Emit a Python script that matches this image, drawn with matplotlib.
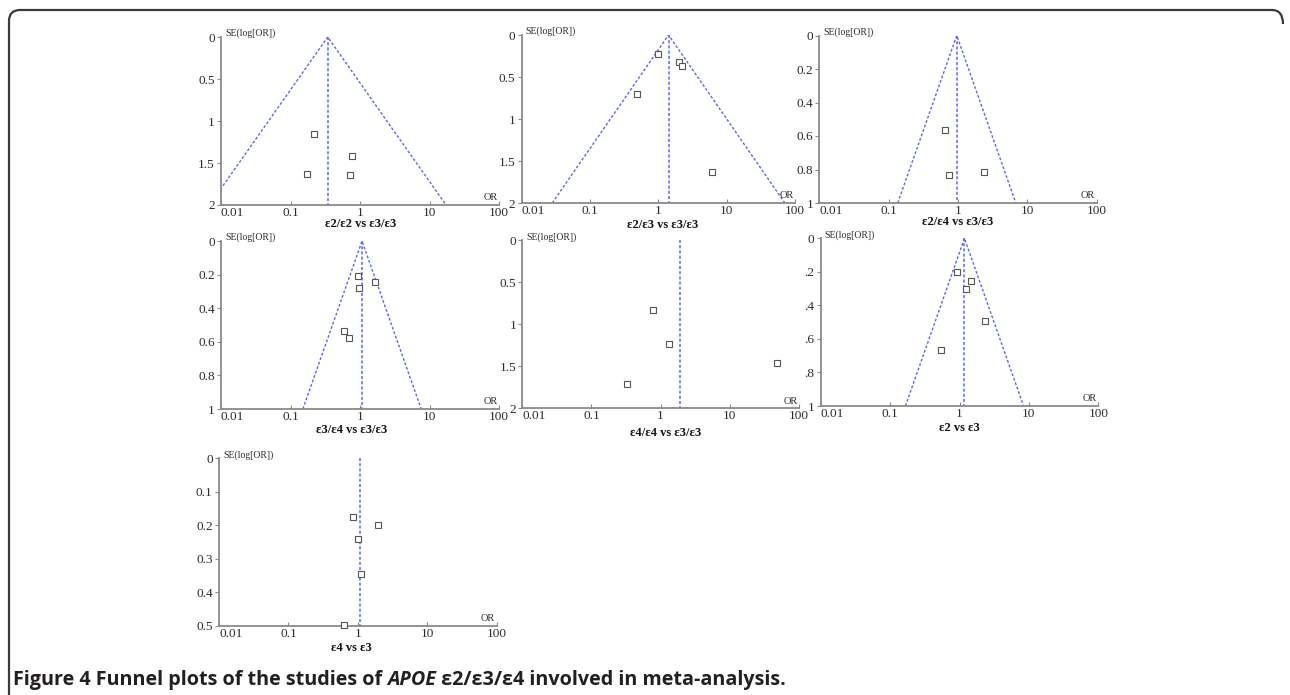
import numpy as np
import matplotlib
matplotlib.use("Agg")
import matplotlib.pyplot as plt
from matplotlib.path import Path
from matplotlib.patches import PathPatch

W, H = 1290, 695

# ---- data ----
titles = ["ε2/ε2 vs ε3/ε3", "ε2/ε3 vs ε3/ε3", "ε2/ε4 vs ε3/ε3",
          "ε3/ε4 vs ε3/ε3", "ε4/ε4 vs ε3/ε3", "ε2 vs ε3", "ε4 vs ε3"]
pooled_or = [0.343, 1.41, 0.96, 1.07, 1.9, 1.18, 1.09]
se_max = [2, 2, 1, 1, 2, 1, 0.5]
show_funnel = [True, True, True, True, False, True, False]

or_e2e2 = [0.216, 0.77, 0.175, 0.72]
se_e2e2 = [1.16, 1.42, 1.63, 1.64]
or_e2e3 = [1.0, 2.03, 2.21, 0.49, 6.0]
se_e2e3 = [0.226, 0.32, 0.365, 0.70, 1.63]
or_e2e4 = [0.65, 0.73, 2.36]
se_e2e4 = [0.564, 0.83, 0.815]
or_e3e4 = [0.925, 1.64, 0.98, 0.58, 0.70]
se_e3e4 = [0.206, 0.246, 0.278, 0.537, 0.58]
or_e4e4 = [0.77, 1.33, 47.4, 0.33]
se_e4e4 = [0.826, 1.24, 1.46, 1.71]
or_e2 = [0.935, 1.46, 1.25, 2.33, 0.54]
se_e2 = [0.203, 0.255, 0.302, 0.495, 0.664]
or_e4 = [0.86, 1.94, 1.02, 1.10, 0.63]
se_e4 = [0.176, 0.199, 0.242, 0.346, 0.498]

study_or = [or_e2e2, or_e2e3, or_e2e4, or_e3e4, or_e4e4, or_e2, or_e4]
study_se = [se_e2e2, se_e2e3, se_e2e4, se_e3e4, se_e4e4, se_e2, se_e4]

xticks = [0.01, 0.1, 1, 10, 100]
xtick_labels = ["0.01", "0.1", "1", "10", "100"]
yticks_half = [0, 0.5, 1, 1.5, 2]
ylabels_half = ["0", "0.5", "1", "1.5", "2"]
yticks_fifth = [0, 0.2, 0.4, 0.6, 0.8, 1]
ylabels_fifth = ["0", "0.2", "0.4", "0.6", "0.8", "1"]
ylabels_cut = ["0", ".2", ".4", ".6", ".8", "1"]
yticks_tenth = [0, 0.1, 0.2, 0.3, 0.4, 0.5]
ylabels_tenth = ["0", "0.1", "0.2", "0.3", "0.4", "0.5"]
panel_yticks = [yticks_half, yticks_half, yticks_fifth, yticks_fifth,
                yticks_half, yticks_fifth, yticks_tenth]
panel_ylabels = [ylabels_half, ylabels_half, ylabels_fifth, ylabels_fifth,
                 ylabels_half, ylabels_cut, ylabels_tenth]

# ---- layout (pixels): left, right, top, bottom of each plot area ----
boxes = [(221, 499, 37, 205), (521.7, 795, 35, 203), (819.3, 1096.7, 35.5, 203),
         (221, 499, 241, 409), (522.3, 799, 240.3, 408.3), (820.7, 1098.3, 238.3, 406),
         (219, 496.7, 458.3, 626)]
label_pos = [(361, 224), (662.5, 225), (958, 222), (352, 430), (666, 433),
             (959, 428), (351, 648)]

serif = "Liberation Serif"
axis_col = "#8a8a8a"
text_col = "#2b2b2b"
blue = "#5a66f2"

fig = plt.figure(figsize=(W / 100, H / 100), dpi=100)

for i in range(7):
    x0, x1, yt, yb = boxes[i]
    ax = fig.add_axes([x0 / W, 1 - yb / H, (x1 - x0) / W, (yb - yt) / H])
    ax.set_facecolor("none")
    ax.set_xscale("log")
    ax.set_xlim(0.01, 100)
    ax.set_ylim(se_max[i], 0)

    p = pooled_or[i]
    s = se_max[i]
    ax.plot([p, p], [0, s], color=blue, lw=1.1, ls=(0, (2, 1.4)))
    if show_funnel[i]:
        ax.plot([p * np.exp(-1.96 * s), p, p * np.exp(1.96 * s)], [s, 0, s],
                color=blue, lw=1.0, ls=(0, (2, 1.4)))

    ax.plot(study_or[i], study_se[i], ls="none", marker="s", ms=4.3,
            mfc="white", mec="#555555", mew=0.8, clip_on=False, zorder=5)

    for side in ["top", "right"]:
        ax.spines[side].set_visible(False)
    for side in ["left", "bottom"]:
        ax.spines[side].set_color(axis_col)
        ax.spines[side].set_linewidth(1.3)

    ax.set_xticks(xticks, xtick_labels)
    ax.xaxis.set_minor_locator(matplotlib.ticker.NullLocator())
    ax.set_yticks(panel_yticks[i], panel_ylabels[i])
    ax.tick_params(axis="x", direction="in", length=3, width=0.8, color=axis_col,
                   pad=1.5, labelsize=9.5, labelcolor=text_col)
    ax.tick_params(axis="y", direction="out", length=3, width=0.8, color=axis_col,
                   pad=1.5, labelsize=9.5, labelcolor=text_col)
    for lab in ax.get_xticklabels() + ax.get_yticklabels():
        lab.set_fontfamily(serif)
    ax.get_xticklabels()[0].set_horizontalalignment("left")

    ax.annotate("SE(log[OR])", xy=(0, 1), xycoords="axes fraction",
                xytext=(3, 2.5), textcoords="offset points", ha="left", va="center",
                fontsize=7, family=serif, color=text_col)
    ax.annotate("OR", xy=(1, 0), xycoords="axes fraction",
                xytext=(-1, 2), textcoords="offset points", ha="right", va="bottom",
                fontsize=7.5, family=serif, color=text_col)

    lx, ly = label_pos[i]
    fig.text(lx / W, 1 - ly / H, titles[i], ha="center", va="center",
             fontsize=9, fontweight="bold", family=serif, color="#111111")

# ---- frame around the figure ----
r = 11
verts = [(W - 7, 24), (W - 7, 10), (W - 7 - r, 10), (9 + r, 10), (9, 10), (9, 10 + r), (9, H + 2)]
codes = [Path.MOVETO, Path.CURVE3, Path.CURVE3, Path.LINETO, Path.CURVE3, Path.CURVE3, Path.LINETO]
verts = [(x / W, 1 - y / H) for x, y in verts]
fig.add_artist(PathPatch(Path(verts, codes), transform=fig.transFigure,
                         fill=False, ec="#3a3a3a", lw=1.6))

# ---- caption ----
renderer = fig.canvas.get_renderer()
cap_font = "Open Sans"
pieces = [("Figure 4 Funnel plots of the studies of ", "normal"),
          ("APOE", "italic"),
          (" ε2/ε3/ε4 involved in meta-analysis.", "normal")]
cx = 13
for txt, style in pieces:
    t = fig.text(cx / W, 1 - 685 / H, txt, ha="left", va="baseline", fontsize=14.2,
                 fontweight="bold", style=style, family=cap_font, color="#231f20")
    bb = t.get_window_extent(renderer=renderer)
    cx += bb.width

fig.savefig("out.png", dpi=100)
